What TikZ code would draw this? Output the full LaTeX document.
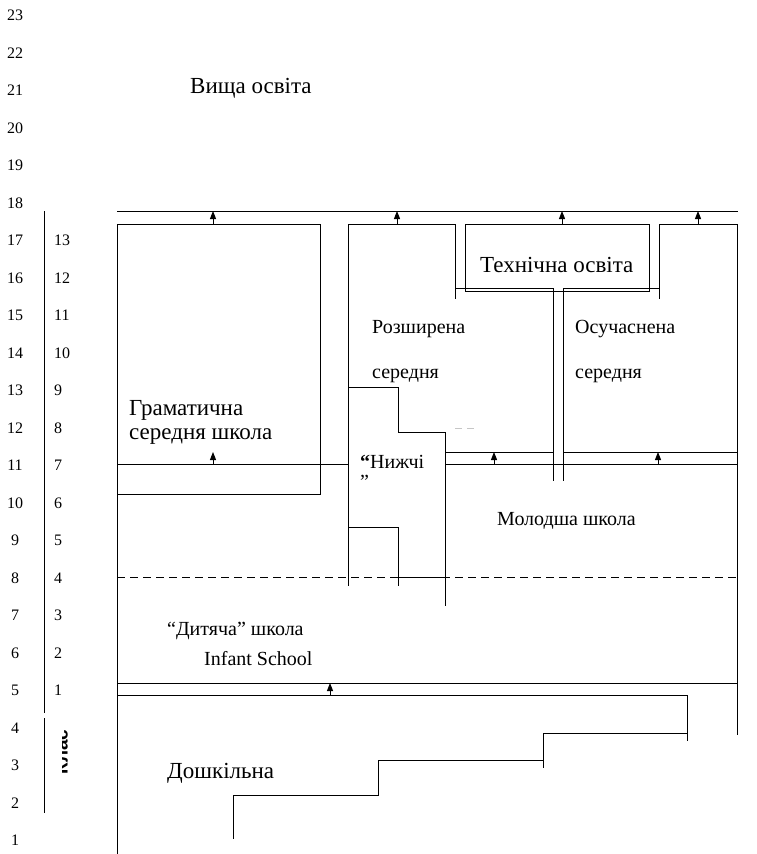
\documentclass[tikz,border=0pt]{standalone}
\usepackage{fontspec}
\setmainfont{Liberation Serif}
\newfontfamily\labsans{Liberation Sans}
\usetikzlibrary{arrows.meta}
\begin{document}
\begin{tikzpicture}[x=1pt,y=-1pt,
  ln/.style={line width=1pt,line cap=rect},
  up/.style={line width=1pt,-{Triangle[width=6pt,length=8pt]}},
  num/.style={font=\fontsize{16}{18}\selectfont,inner sep=0pt},
  big/.style={font=\fontsize{23}{26}\selectfont,inner sep=0pt,anchor=west},
  mid/.style={font=\fontsize{20}{23}\selectfont,inner sep=0pt,anchor=west}]
\useasboundingbox (0,0) rectangle (757,854);
% left number columns
\foreach \n [evaluate=\n as \yy using {15.5+(23-\n)*37.5}] in {1,...,23}
  \node[num] (L\n) at (15,\yy) {\n};
\foreach \n [evaluate=\n as \yy using {15.5+(23-\n)*37.5}, evaluate=\n as \kk using int(\n-4)] in {5,...,17}
  \node[num,anchor=west] (R\kk) at (54,\yy) {\kk};
\draw[ln,line cap=butt] (44,211) -- (44,713);
\draw[ln,line cap=butt] (44,718) -- (44,813);
\begin{scope}
  \clip (62.5,725) rectangle (69,780);
  \node[rotate=90,font=\labsans\bfseries\fontsize{19}{21}\selectfont,inner sep=0pt,anchor=base] (klas) at (67.5,752) {Клас};
\end{scope}
% top line
\coordinate (t1) at (213,211); \coordinate (t2) at (397,211);
\coordinate (t3) at (562,211); \coordinate (t4) at (698,211);
\draw[ln] (117,211) -- (737,211);
\coordinate (b1) at (213,224); \coordinate (b2) at (397,224);
\coordinate (b3) at (562,224); \coordinate (b4) at (698,224);
\foreach \i in {1,...,4} \draw[up] (b\i) -- (t\i);
% grammar box
\draw[ln] (117,494) -- (320,494) -- (320,224) -- (117,224) -- (117,854);
% line at 7th grade
\draw[ln] (117,464) -- (348,464);
\draw[ln] (445,464) -- (737,464);
\coordinate (g0) at (213,464); \coordinate (g1) at (213,452);
\draw[up] (g0) -- (g1);
\draw[ln] (445,452) -- (553,452);
\draw[ln] (563,452) -- (737,452);
\coordinate (m0) at (494,464); \coordinate (m1) at (494,452);
\coordinate (n0) at (658,464); \coordinate (n1) at (658,452);
\draw[up] (m0) -- (m1);
\draw[up] (n0) -- (n1);
% Box B (Розширена)
\draw[ln] (348,585) -- (348,224) -- (455,224) -- (455,298);
\draw[ln] (455,288) -- (553,288) -- (553,480);
\draw[ln] (563,480) -- (563,288) -- (659,288);
\draw[ln] (659,298) -- (659,224) -- (737,224) -- (737,734);
% technical box
\draw[ln] (465,224) rectangle (649,291);
% steps inside
\draw[ln] (348,387) -- (398,387) -- (398,432) -- (445,432) -- (445,605);
\draw[ln] (348,527) -- (398,527) -- (398,585);
\draw[ln] (398,577) -- (445,577);
\draw[line width=1pt,gray!45,dash pattern=on 7pt off 5pt] (455,428) -- (475,428);
% dashed line
\draw[line width=1pt,dash pattern=on 8pt off 5pt] (117,577) -- (737,577);
% infant bottom
\draw[ln] (117,683) -- (737,683);
\draw[ln] (117,695) -- (687,695) -- (687,740);
\coordinate (i0) at (330,695); \coordinate (i1) at (330,683);
\draw[up] (i0) -- (i1);
% stairs
\draw[ln] (543,767) -- (543,733) -- (687,733);
\draw[ln] (378,795) -- (378,760) -- (543,760);
\draw[ln] (233,838) -- (233,795) -- (378,795);
% texts
\node[big] (vyshcha) at (190,88) {Вища освіта};
\node[big] (tekh) at (480,265) {Технічна освіта};
\node[mid] (rozsh) at (372,329) {Розширена};
\node[mid] (rozsh2) at (372,376) {середня};
\node[mid] (osuch) at (575,329) {Осучаснена};
\node[mid] (osuch2) at (575,376) {середня};
\node[big] (gram) at (129,410) {Граматична};
\node[big] (gram2) at (129,437) {середня школа};
\node[mid] (nyzh) at (360,462) {\textbf{“}Нижчі};
\node[mid,anchor=north west] (nyzh2) at (360,475) {”};
\node[mid] (molod) at (497,521) {Молодша школа};
\node[mid] (dyt) at (167,631) {“Дитяча” школа};
\node[mid] (inf) at (204,659) {Infant School};
\node[big] (dosh) at (167,773) {Дошкільна};
\end{tikzpicture}
\end{document}
